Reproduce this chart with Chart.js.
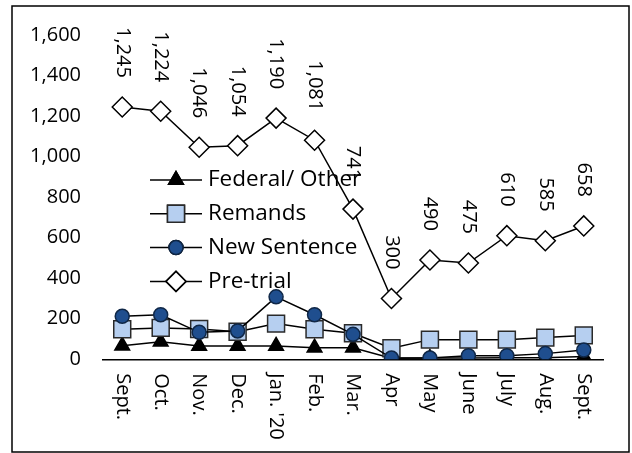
<!DOCTYPE html>
<html>
<head>
<meta charset="utf-8">
<script src="https://cdn.jsdelivr.net/npm/chart.js@4.4.0/dist/chart.umd.min.js"></script>
<style>
  html, body { margin: 0; padding: 0; background: #fff; }
  #wrap { width: 632px; height: 453px; }
</style>
</head>
<body>
<div id="wrap"><canvas id="custodyChart" width="632" height="453"></canvas></div>
<script>
// monthly custody counts, Sept 2019 - Sept 2020
const months = ['Sept.', 'Oct.', 'Nov.', 'Dec.', "Jan. '20", 'Feb.', 'Mar.', 'Apr', 'May', 'June', 'July', 'Aug.', 'Sept.'];
const federalOther = [67, 86, 66, 66, 66, 57, 57, 5, 6, 7, 8, 8, 14];
const remands = [148, 155, 150, 136, 176, 148, 128, 55, 97, 97, 97, 107, 118];
const newSentence = [212, 220, 133, 140, 308, 220, 123, 6, 6, 18, 18, 28, 46];
const preTrial = [1245, 1224, 1046, 1054, 1190, 1081, 741, 300, 490, 475, 610, 585, 658];
const yTicks = [0, 200, 400, 600, 800, 1000, 1200, 1400, 1600];

const FONT = '"Open Sans", "Noto Sans", sans-serif';
const fmt = v => v.toLocaleString('en-US');

// frame, rotated month labels, value labels and the legend box
const extras = {
  id: 'extras',
  beforeDatasetsDraw(chart) {
    const ctx = chart.ctx;
    ctx.save();
    ctx.font = '22.5px ' + FONT;
    ctx.fillStyle = '#000';
    ctx.textBaseline = 'middle';
    ctx.textAlign = 'left';
    chart.data.datasets.forEach((ds, i) => {
      const y = 180 + i * 33.8;
      ctx.strokeStyle = '#000';
      ctx.lineWidth = 1.5;
      ctx.beginPath();
      ctx.moveTo(150, y);
      ctx.lineTo(202, y);
      ctx.stroke();
      Chart.helpers.drawPoint(ctx, {
        pointStyle: ds.pointStyle,
        radius: ds.pointRadius,
        rotation: 0,
        borderWidth: ds.pointBorderWidth
      }, 176, y);
      ctx.fillStyle = ds.pointBackgroundColor;
      ctx.strokeStyle = ds.pointBorderColor;
      ctx.lineWidth = ds.pointBorderWidth;
      ctx.fill();
      ctx.stroke();
      ctx.fillStyle = '#000';
      ctx.fillText(ds.label, 208, y);
    });
    ctx.restore();
  },
  afterDraw(chart) {
    const ctx = chart.ctx;
    const xs = chart.scales.x;
    ctx.save();
    ctx.font = '20px ' + FONT;
    ctx.fillStyle = '#000';
    ctx.textBaseline = 'middle';

    // month labels, reading top to bottom
    months.forEach((m, i) => {
      const x = xs.getPixelForValue(i);
      ctx.save();
      ctx.translate(x, chart.chartArea.bottom + 14);
      ctx.rotate(Math.PI / 2);
      ctx.textAlign = 'left';
      ctx.fillText(m, 0, 0);
      ctx.restore();
    });

    // pre-trial values above the points
    const meta = chart.getDatasetMeta(3);
    meta.data.forEach((pt, i) => {
      ctx.save();
      ctx.translate(pt.x, pt.y - 29);
      ctx.rotate(Math.PI / 2);
      ctx.textAlign = 'right';
      ctx.fillText(fmt(preTrial[i]), 0, 0);
      ctx.restore();
    });

    ctx.strokeStyle = '#000';
    ctx.lineWidth = 1.5;
    ctx.strokeRect(12, 6, 617, 446);
    ctx.restore();
  }
};

function line(label, data, style, radius, fill, border, order) {
  return {
    label,
    data,
    order,
    borderColor: '#000',
    borderWidth: 1.5,
    tension: 0,
    pointStyle: style,
    pointRadius: radius,
    pointHoverRadius: radius,
    pointBackgroundColor: fill,
    pointBorderColor: border,
    pointBorderWidth: 1.5
  };
}

new Chart(document.getElementById('custodyChart'), {
  type: 'line',
  data: {
    labels: months,
    datasets: [
      line('Federal/ Other', federalOther, 'triangle', 8.5, '#000', '#000', 4),
      line('Remands', remands, 'rect', 12, '#b6cff0', '#2a2a2a', 3),
      line('New Sentence', newSentence, 'circle', 7, '#1f4e8e', '#0f2747', 2),
      line('Pre-trial', preTrial, 'rectRot', 10, '#fff', '#000', 1)
    ]
  },
  options: {
    responsive: false,
    animation: false,
    layout: { padding: { left: 0, top: 35, right: 29, bottom: 0 } },
    plugins: { legend: { display: false }, tooltip: { enabled: false } },
    scales: {
      x: {
        type: 'category',
        offset: true,
        grid: { display: false, drawTicks: false },
        border: { display: true, color: '#000', width: 1.5 },
        ticks: { display: false },
        afterFit: s => { s.height = 93.7; }
      },
      y: {
        min: 0,
        max: 1600,
        afterBuildTicks: s => { s.ticks = yTicks.map(v => ({ value: v })); },
        grid: { display: false, drawTicks: false },
        border: { display: false },
        ticks: {
          padding: 22,
          color: '#000',
          font: { family: FONT, size: 20 },
          callback: v => fmt(v)
        },
        afterFit: s => { s.width = 103; }
      }
    }
  },
  plugins: [extras]
});
</script>
</body>
</html>
